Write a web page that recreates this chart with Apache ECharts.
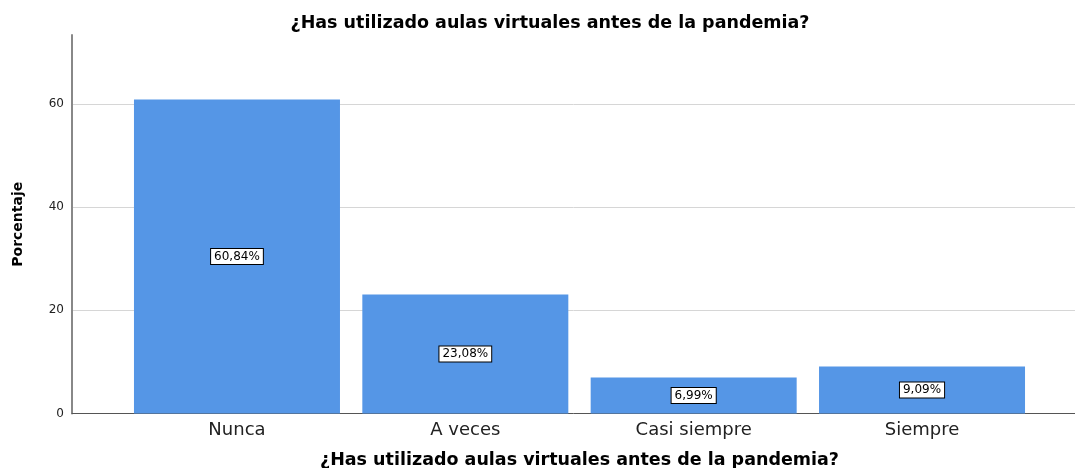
<!DOCTYPE html>
<html>
<head>
<meta charset="utf-8">
<script src="https://cdn.jsdelivr.net/npm/echarts@6/dist/echarts.min.js"></script>
<style>
  html, body { margin: 0; padding: 0; background: #fff; }
  #chart { width: 1075px; height: 468px; }
</style>
</head>
<body>
<div id="chart"></div>
<script>
const categories = ['Nunca', 'A veces', 'Casi siempre', 'Siempre']
const percentages = [60.84, 23.08, 6.99, 9.09]
const titleText = '¿Has utilizado aulas virtuales antes de la pandemia?'
const yName = 'Porcentaje'

const font = '"DejaVu Sans", sans-serif'
const gridTop = 35
const gridBottom = 54.5
const yMax = 73.35

const chart = echarts.init(document.getElementById('chart'))
chart.setOption({
    animation: false,
    title: {
        text: titleText,
        left: 545,
        textAlign: 'center',
        top: 9,
        textStyle: { fontFamily: font, fontSize: 17.5, fontWeight: 'bold', color: '#000' },
    },
    grid: [
        { left: 72, right: 0, top: gridTop, bottom: gridBottom, outerBoundsMode: 'none' },
        { left: 122.8, right: 38.8, top: gridTop, bottom: gridBottom, outerBoundsMode: 'none' },
    ],
    xAxis: [
        {
            gridIndex: 0, type: 'value', min: 0, max: 1,
            axisLine: { show: true, lineStyle: { color: '#555', width: 1 } },
            axisTick: { show: false }, axisLabel: { show: false }, splitLine: { show: false },
            name: titleText, nameLocation: 'middle', nameGap: 38,
            nameTextStyle: { fontFamily: font, fontSize: 17.5, fontWeight: 'bold', color: '#000', padding: [0, 0, 0, 12] },
        },
        {
            gridIndex: 1, type: 'category', data: categories,
            axisLine: { show: false }, axisTick: { show: false },
            axisLabel: { fontFamily: font, fontSize: 18, color: '#222', margin: 8 },
        },
    ],
    yAxis: [
        {
            gridIndex: 0, type: 'value', min: 0, max: yMax, interval: 20,
            axisLine: { show: true, lineStyle: { color: '#888', width: 2 } },
            axisTick: { show: false },
            axisLabel: { fontFamily: font, fontSize: 12, color: '#222', margin: 8, showMaxLabel: false },
            splitLine: { show: true, showMaxLine: false, lineStyle: { color: '#d6d6d6', width: 1 } },
            name: yName, nameLocation: 'middle', nameGap: 47,
            nameTextStyle: { fontFamily: font, fontSize: 14, fontWeight: 'bold', color: '#000' },
        },
        {
            gridIndex: 1, type: 'value', min: 0, max: yMax, show: false,
        },
    ],
    series: [
        {
            type: 'bar', xAxisIndex: 1, yAxisIndex: 1,
            data: percentages, barWidth: 206,
            itemStyle: { color: '#5596e6' },
            label: {
                show: true, position: 'inside',
                formatter: p => p.value.toFixed(2).replace('.', ',') + '%',
                fontFamily: font, fontSize: 12, color: '#000',
                backgroundColor: '#fff', borderColor: '#000', borderWidth: 1,
                padding: [2, 3, 1, 3],
            },
        },
    ],
})
</script>
</body>
</html>
